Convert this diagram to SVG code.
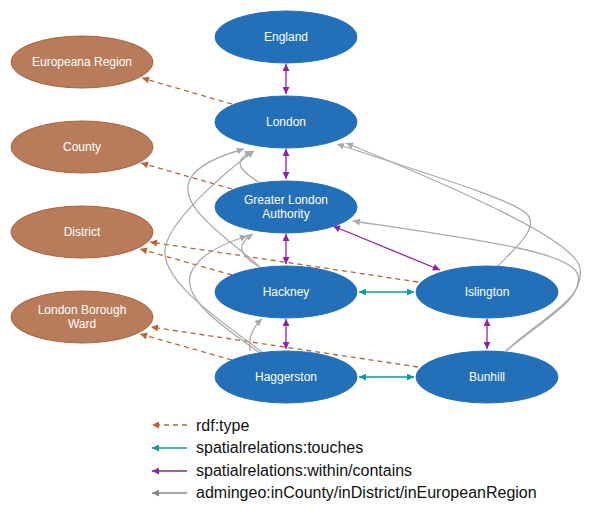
<svg xmlns="http://www.w3.org/2000/svg" width="593" height="516" viewBox="0 0 593 516">
<style>
.place ellipse{fill:#2370b9;stroke:#2370b9;stroke-width:1}
.type ellipse{fill:#b87c5a;stroke:#a9633d;stroke-width:1}
text{font-family:"Liberation Sans",Arial,sans-serif;}
.node text{fill:#fff;font-size:12px;text-anchor:middle}
.legend text{fill:#111;font-size:16px}
.e{fill:none;stroke-width:1.3}
.rdf{stroke:#b5653b;stroke-dasharray:5,4;marker-end:url(#mb)}
.tch{stroke:#12999a;marker-start:url(#mt);marker-end:url(#mt)}
.win{stroke:#92239f;marker-start:url(#mp);marker-end:url(#mp)}
.adm{stroke:#aaaaaa;marker-end:url(#mg)}
</style>
<defs>
<marker id="mb" viewBox="0 0 10 10" refX="10" refY="5" markerWidth="9" markerHeight="7" markerUnits="userSpaceOnUse" orient="auto-start-reverse"><path d="M0,0L10,5L0,10z" fill="#b5653b"/></marker>
<marker id="mt" viewBox="0 0 10 10" refX="10" refY="5" markerWidth="9" markerHeight="7" markerUnits="userSpaceOnUse" orient="auto-start-reverse"><path d="M0,0L10,5L0,10z" fill="#12999a"/></marker>
<marker id="mp" viewBox="0 0 10 10" refX="10" refY="5" markerWidth="9" markerHeight="7" markerUnits="userSpaceOnUse" orient="auto-start-reverse"><path d="M0,0L10,5L0,10z" fill="#92239f"/></marker>
<marker id="mg" viewBox="0 0 10 10" refX="10" refY="5" markerWidth="9" markerHeight="7" markerUnits="userSpaceOnUse" orient="auto-start-reverse"><path d="M0,0L10,5L0,10z" fill="#aaaaaa"/></marker>
<marker id="mg2" viewBox="0 0 10 10" refX="10" refY="5" markerWidth="9" markerHeight="7" markerUnits="userSpaceOnUse" orient="auto-start-reverse"><path d="M0,0L10,5L0,10z" fill="#888888"/></marker>
</defs>

<g id="connectors">
<!-- rdf:type -->
<path class="e rdf" d="M232,104 L142,78"/>
<path class="e rdf" d="M232,189 L141,163"/>
<path class="e rdf" d="M232,275 L140,249"/>
<path class="e rdf" d="M418,282 L150,242"/>
<path class="e rdf" d="M232,360 L140,334"/>
<path class="e rdf" d="M418,367 L151,327"/>
<!-- within/contains -->
<path class="e win" d="M286,64 L286,94"/>
<path class="e win" d="M286,149 L286,179"/>
<path class="e win" d="M286,234 L286,264"/>
<path class="e win" d="M286,319 L286,349"/>
<path class="e win" d="M487,319 L487,349"/>
<path class="e win" d="M333,226 L440,270"/>
<!-- touches -->
<path class="e tch" d="M359,292 L414,292"/>
<path class="e tch" d="M359,377 L414,377"/>
<!-- admingeo -->
<path class="e adm" d="M260,267 C230,240 185,212 188,186 C190,168 215,157 244,149"/>
<path class="e adm" d="M262,352 C222,322 162,282 165,250 C167,222 225,172 254,151"/>
<path class="e adm" d="M259,182 C242,172 230,162 252,151"/>
<path class="e adm" d="M260,353 C220,325 185,300 190,276 C195,256 225,243 247,236"/>
<path class="e adm" d="M258,266 C240,255 235,245 253,234"/>
<path class="e adm" d="M250,351 C248,338 252,328 262,319"/>
<path class="e adm" d="M498,266 C515,248 540,228 527,214 C510,198 420,172 337,144"/>
<path class="e adm" d="M506,351 C545,315 585,300 580,268 C575,240 460,190 346,143"/>
<path class="e adm" d="M506,351 C545,318 583,300 578,275 C572,252 480,240 353,221"/>
</g>

<g id="england" class="node place"><ellipse cx="286" cy="37" rx="71" ry="26"/><text x="286" y="41.3">England</text></g>
<g id="london" class="node place"><ellipse cx="286" cy="122" rx="71" ry="26"/><text x="286" y="126.3">London</text></g>
<g id="gla" class="node place"><ellipse cx="286" cy="207" rx="71" ry="26"/><text x="286" y="204.3">Greater London</text><text x="286" y="218.3">Authority</text></g>
<g id="hackney" class="node place"><ellipse cx="286" cy="292" rx="71" ry="26"/><text x="286" y="296.3">Hackney</text></g>
<g id="haggerston" class="node place"><ellipse cx="286" cy="377" rx="71" ry="26"/><text x="286" y="381.3">Haggerston</text></g>
<g id="islington" class="node place"><ellipse cx="487" cy="292" rx="71" ry="26"/><text x="487" y="296.3">Islington</text></g>
<g id="bunhill" class="node place"><ellipse cx="487" cy="377" rx="71" ry="26"/><text x="487" y="381.3">Bunhill</text></g>

<g id="europeana-region" class="node type"><ellipse cx="82" cy="62" rx="71" ry="26"/><text x="82" y="66.3">Europeana Region</text></g>
<g id="county" class="node type"><ellipse cx="82" cy="147" rx="71" ry="26"/><text x="82" y="151.3">County</text></g>
<g id="district" class="node type"><ellipse cx="82" cy="232" rx="71" ry="26"/><text x="82" y="236.3">District</text></g>
<g id="ward" class="node type"><ellipse cx="82" cy="317" rx="71" ry="26"/><text x="82" y="314.3">London Borough</text><text x="82" y="328.3">Ward</text></g>

<g id="legend" class="legend">
<path class="e" d="M187,425 L152,425" stroke="#b5653b" stroke-dasharray="5,4" marker-end="url(#mb)"/>
<path class="e" d="M187,448 L152,448" stroke="#12999a" marker-end="url(#mt)"/>
<path class="e" d="M187,471 L152,471" stroke="#92239f" marker-end="url(#mp)"/>
<path class="e" d="M187,493 L152,493" stroke="#888888" marker-end="url(#mg2)"/>
<text x="196" y="431">rdf:type</text>
<text x="196" y="453">spatialrelations:touches</text>
<text x="196" y="476">spatialrelations:within/contains</text>
<text x="196" y="498">admingeo:inCounty/inDistrict/inEuropeanRegion</text>
</g>
</svg>
